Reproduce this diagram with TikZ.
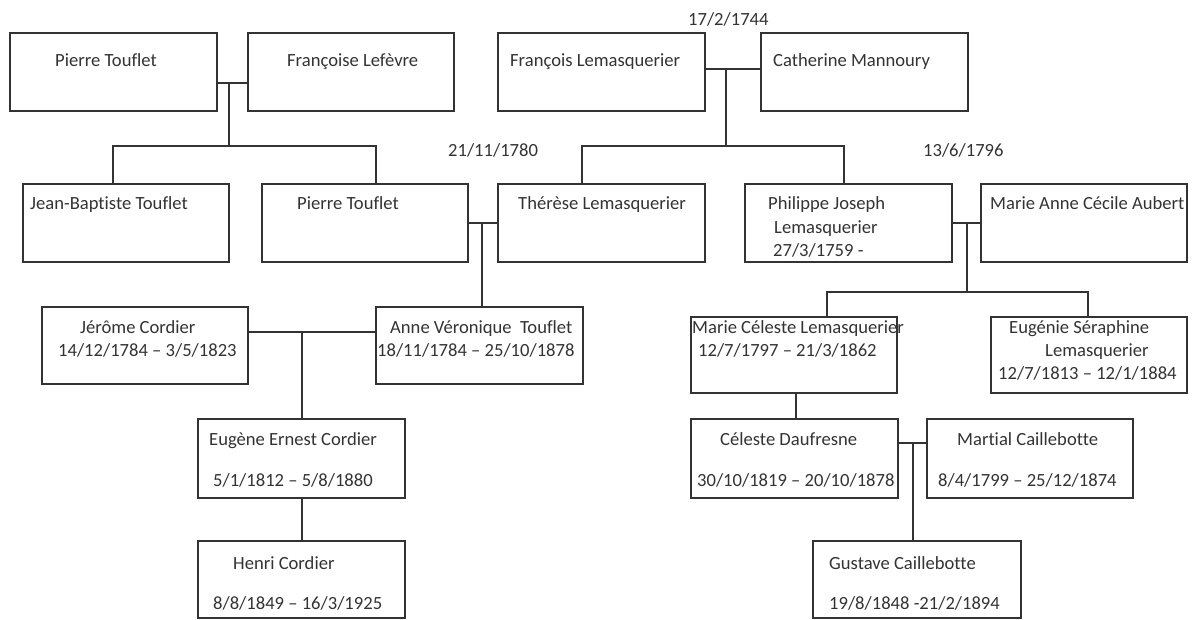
\documentclass[tikz,border=0pt]{standalone}
\usepackage{fontspec}
\setmainfont{Carlito}[Ligatures=NoCommon]
\usetikzlibrary{fit}
\definecolor{ink}{HTML}{333333}
\tikzset{
  person/.style={draw=ink, line width=1.3pt, inner sep=0pt, rectangle},
  txt/.style={anchor=base west, inner sep=0pt, text=ink, font=\fontsize{18.6}{23}\selectfont},
  conn/.style={draw=ink, line width=1.3pt}
}
\begin{document}
\begin{tikzpicture}[x=1pt, y=-1pt]
\useasboundingbox (0,0) rectangle (1192,619);
% boxes
\node[person, fit={(10,33) (217,111)}] (pt1) {};
\node[person, fit={(248,33) (454,111)}] (fl) {};
\node[person, fit={(498,33) (705,111)}] (flem) {};
\node[person, fit={(761,33) (968,111)}] (cm) {};
\node[person, fit={(23,184) (229,262)}] (jbt) {};
\node[person, fit={(262,184) (468,262)}] (pt2) {};
\node[person, fit={(498,184) (705,262)}] (tl) {};
\node[person, fit={(745,184) (952,262)}] (pj) {};
\node[person, fit={(981,184) (1187,262)}] (mac) {};
\node[person, fit={(42,307) (248,384)}] (jc) {};
\node[person, fit={(376,307) (583,384)}] (av) {};
\node[person, fit={(691,317) (897,393)}] (mcl) {};
\node[person, fit={(991,317) (1187,393)}] (es) {};
\node[person, fit={(198,419) (405,498)}] (eec) {};
\node[person, fit={(691,419) (898,498)}] (cd) {};
\node[person, fit={(927,419) (1133,498)}] (mc) {};
\node[person, fit={(198,541) (405,618)}] (hc) {};
\node[person, fit={(813,541) (1021,618)}] (gc) {};
% texts
\node[txt] (t1) at (55,66) {Pierre Touflet};
\node[txt] (t2) at (287,66) {Françoise Lefèvre};
\node[txt] (d1) at (688,25) {17/2/1744};
\node[txt] (t3) at (510,66) {François Lemasquerier};
\node[txt] (t4) at (773,66) {Catherine Mannoury};
\node[txt] (d2) at (448,156) {21/11/1780};
\node[txt] (d3) at (923,156) {13/6/1796};
\node[txt] (t5) at (30,209) {Jean-Baptiste Touflet};
\node[txt] (t6) at (297,209) {Pierre Touflet};
\node[txt] (t7) at (518,209) {Thérèse Lemasquerier};
\node[txt] (t8a) at (768,209) {Philippe Joseph};
\node[txt] (t8b) at (774,233) {Lemasquerier};
\node[txt] (t8c) at (773,256) {27/3/1759 -};
\node[txt] (t9) at (990,209) {Marie Anne Cécile Aubert};
\node[txt] (t10a) at (80,333) {Jérôme Cordier};
\node[txt] (t10b) at (58,356) {14/12/1784 – 3/5/1823};
\node[txt] (t11a) at (390,333) {Anne Véronique\ \ Touflet};
\node[txt] (t11b) at (377,356) {18/11/1784 – 25/10/1878};
\node[txt] (t12a) at (692,333) {Marie Céleste Lemasquerier};
\node[txt] (t12b) at (698,356) {12/7/1797 – 21/3/1862};
\node[txt] (t13a) at (1009,333) {Eugénie Séraphine};
\node[txt] (t13b) at (1045,356) {Lemasquerier};
\node[txt] (t13c) at (998,379) {12/7/1813 – 12/1/1884};
\node[txt] (t14a) at (209,445) {Eugène Ernest Cordier};
\node[txt] (t14b) at (213,486) {5/1/1812 – 5/8/1880};
\node[txt] (t15a) at (720,445) {Céleste Daufresne};
\node[txt] (t15b) at (697,486) {30/10/1819 – 20/10/1878};
\node[txt] (t16a) at (957,445) {Martial Caillebotte};
\node[txt] (t16b) at (938,486) {8/4/1799 – 25/12/1874};
\node[txt] (t17a) at (233,569) {Henri Cordier};
\node[txt] (t17b) at (213,609) {8/8/1849 – 16/3/1925};
\node[txt] (t18a) at (829,569) {Gustave Caillebotte};
\node[txt] (t18b) at (829,609) {19/8/1848 -21/2/1894};
% junction coordinates
\coordinate (m1) at (229,83);  \coordinate (b1l) at (113,146); \coordinate (b1r) at (376,146);
\coordinate (m2) at (726,69);  \coordinate (b2l) at (582,146); \coordinate (b2r) at (844,146);
\coordinate (m3) at (482,223);
\coordinate (m4) at (967,223); \coordinate (b4l) at (827,292); \coordinate (b4r) at (1088,292);
\coordinate (m5) at (302,332);
\coordinate (m6) at (913,443);
\coordinate (v7) at (796,400);
% connectors
\draw[conn] (pt1.east |- m1) -- (fl.west |- m1);
\draw[conn] (m1) -- (m1 |- b1l);
\draw[conn] (jbt.north -| b1l) |- (b1r) -- (pt2.north -| b1r);
\draw[conn] (flem.east |- m2) -- (cm.west |- m2);
\draw[conn] (m2) -- (m2 |- b2l);
\draw[conn] (tl.north -| b2l) |- (b2r) -- (pj.north -| b2r);
\draw[conn] (pt2.east |- m3) -- (tl.west |- m3);
\draw[conn] (m3) -- (av.north -| m3);
\draw[conn] (pj.east |- m4) -- (mac.west |- m4);
\draw[conn] (m4) -- (m4 |- b4l);
\draw[conn] (mcl.north -| b4l) |- (b4r) -- (es.north -| b4r);
\draw[conn] (jc.east |- m5) -- (av.west |- m5);
\draw[conn] (m5) -- (eec.north -| m5);
\draw[conn] (eec.south -| m5) -- (hc.north -| m5);
\draw[conn] (mcl.south -| v7) -- (cd.north -| v7);
\draw[conn] (cd.east |- m6) -- (mc.west |- m6);
\draw[conn] (m6) -- (gc.north -| m6);
\end{tikzpicture}
\end{document}
